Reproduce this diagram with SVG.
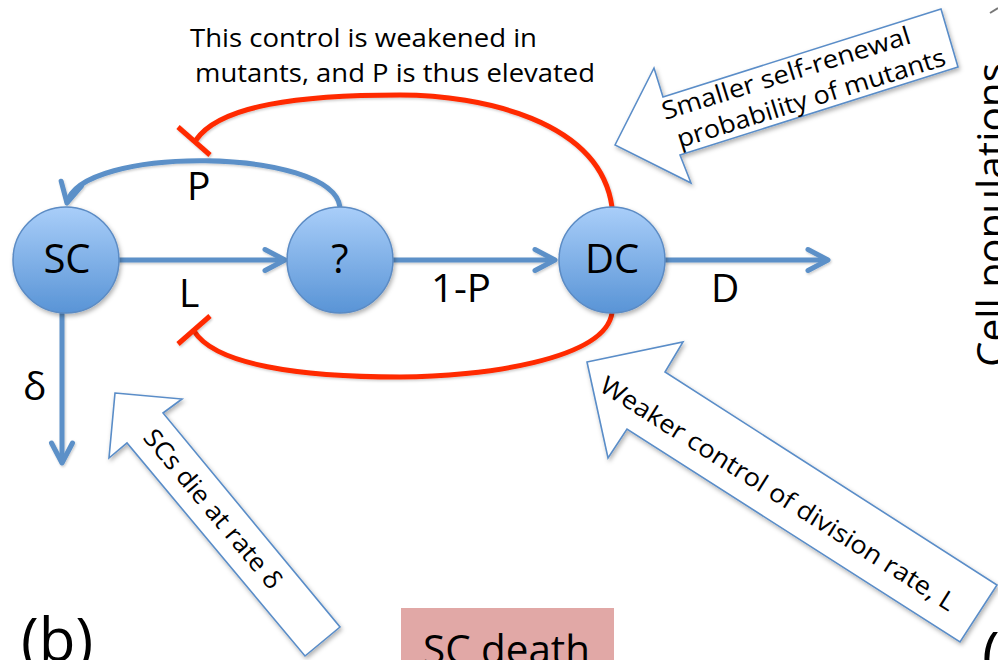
<svg xmlns="http://www.w3.org/2000/svg" width="998" height="660" viewBox="0 0 998 660">
<style>
text{font-family:"Open Sans","Noto Sans","Liberation Sans",sans-serif;fill:#000}
.lbl{font-size:39px}
.node{font-size:40px;text-anchor:middle}
.note{font-size:25px}
.blk{fill:#fff;stroke:#5a8dc8;stroke-width:1.6;stroke-linejoin:miter;filter:url(#sh)}
.flow{fill:none;stroke:#5b90c8;stroke-width:5;filter:url(#shl)}
.inh{fill:none;stroke:#ff2a00;stroke-width:5;filter:url(#shl)}
.circ{fill:url(#cg);stroke:#5b8bc4;stroke-width:1.5;filter:url(#sh)}
</style>
<defs>
<linearGradient id="cg" x1="0" y1="0" x2="0" y2="1">
<stop offset="0" stop-color="#a9cef9"/>
<stop offset="1" stop-color="#5994d6"/>
</linearGradient>
<filter id="sh" filterUnits="userSpaceOnUse" x="0" y="0" width="998" height="660">
<feDropShadow dx="1.5" dy="2.5" stdDeviation="2" flood-color="#000" flood-opacity="0.3"/>
</filter>
<filter id="shl" filterUnits="userSpaceOnUse" x="0" y="0" width="998" height="660">
<feDropShadow dx="1" dy="1.5" stdDeviation="1" flood-color="#000" flood-opacity="0.2"/>
</filter>
<marker id="ah" markerUnits="userSpaceOnUse" markerWidth="30" markerHeight="30" viewBox="0 0 30 30" refX="24" refY="15" orient="auto">
<path d="M4,4.5 L24,15 L4,25.5" fill="none" stroke="#5b90c8" stroke-width="5" stroke-linecap="round" stroke-linejoin="round"/>
</marker>
</defs>
<rect width="998" height="660" fill="#fff"/>

<g id="connectors">
<path class="flow" d="M118,260 L285,260" marker-end="url(#ah)"/>
<path class="flow" d="M393,260 L555,260" marker-end="url(#ah)"/>
<path class="flow" d="M665,260 L828,260" marker-end="url(#ah)"/>
<path class="flow" d="M62,313 L62,463" marker-end="url(#ah)"/>
<path class="flow" d="M340,207 C332,147 80,145 67,203" marker-end="url(#ah)"/>
<path class="inh" d="M612,207 C600,120 480,95 400,95 C300,95 220,105 196,140"/>
<path class="inh" d="M178,127 L210,155"/>
<path class="inh" d="M612,313 C605,360 480,377 400,377 C300,377 215,365 194,331"/>
<path class="inh" d="M178,344 L210,316"/>
</g>

<g id="SC">
<circle class="circ" cx="66" cy="260" r="53"/>
<text class="node" x="67" y="273">SC</text>
</g>
<g id="Q">
<circle class="circ" cx="340" cy="260" r="53"/>
<text class="node" x="340" y="273">?</text>
</g>
<g id="DC">
<circle class="circ" cx="612" cy="260" r="53"/>
<text class="node" x="612" y="273">DC</text>
</g>

<g id="labels">
<text class="lbl" x="187" y="200">P</text>
<text class="lbl" x="179" y="307">L</text>
<text class="lbl" x="431" y="302" textLength="60" lengthAdjust="spacingAndGlyphs">1-P</text>
<text class="lbl" x="711" y="302">D</text>
<text class="lbl" x="23" y="400">δ</text>
<text class="note" x="190" y="47" textLength="347" lengthAdjust="spacingAndGlyphs">This control is weakened in</text>
<text class="note" x="195" y="82" textLength="400" lengthAdjust="spacingAndGlyphs">mutants, and P is thus elevated</text>
</g>

<g id="note-selfrenewal">
<polygon class="blk" points="615,145 654,68 663,97 941,9 958,67 680,155 691,183"/>
<text class="note" font-size="25" transform="translate(665,120) rotate(-17.3)" textLength="259" lengthAdjust="spacingAndGlyphs">Smaller self-renewal</text>
<text class="note" font-size="25" transform="translate(680,148) rotate(-17.3)" textLength="280" lengthAdjust="spacingAndGlyphs">probability of mutants</text>
</g>

<g id="note-division">
<polygon class="blk" points="587,362 683,342 665,372 997,585 960,642 627,429 608,458"/>
<text class="note" font-size="25" transform="translate(598,390) rotate(32.3)" textLength="415" lengthAdjust="spacingAndGlyphs">Weaker control of division rate, L</text>
</g>

<g id="note-death">
<polygon class="blk" points="115,393 182,399 163,413 340,627 305,656 127,443 109,458"/>
<text class="note" font-size="25" transform="translate(142,438) rotate(50)" textLength="200" lengthAdjust="spacingAndGlyphs">SCs die at rate δ</text>
</g>

<g id="sc-death">
<rect x="401" y="608" width="213" height="60" fill="#e1a8a6"/>
<text x="423" y="664" font-size="40" textLength="167" lengthAdjust="spacingAndGlyphs">SC death</text>
</g>

<g id="panel-labels">
<text x="21" y="661" font-size="60">(b)</text>
<text x="982" y="675" font-size="60">(</text>
<text font-size="40" transform="translate(1006,367) rotate(-90)" textLength="304" lengthAdjust="spacingAndGlyphs">Cell populations</text>
<path d="M990,13 L998,8" stroke="#777" stroke-width="2" fill="none"/>
</g>
</svg>
